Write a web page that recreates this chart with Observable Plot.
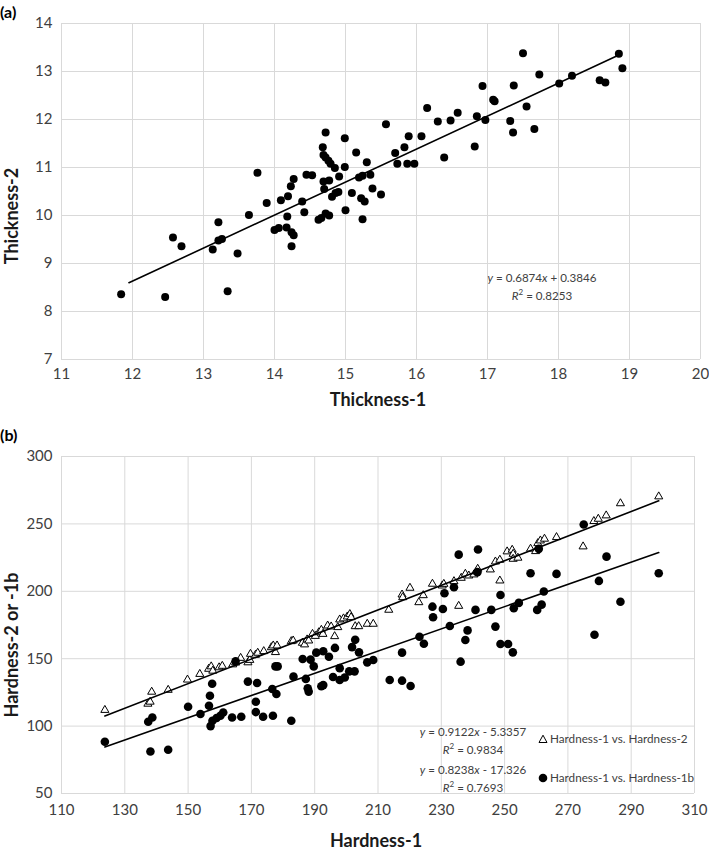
<!DOCTYPE html>
<html><head><meta charset="utf-8">
<script src="https://cdn.jsdelivr.net/npm/d3@7"></script>
<script src="https://cdn.jsdelivr.net/npm/@observablehq/plot@0.6"></script>
<style>
body{margin:0;background:#fff;font-family:Lato,"Open Sans",sans-serif;}
#wrap{position:relative;width:709px;height:850px;overflow:hidden;}
.panel{position:absolute;left:0;}
.tag{position:absolute;left:0;font-weight:bold;font-size:16px;color:#000;line-height:18px;}
.title{position:absolute;font-weight:bold;font-size:18px;color:#1a1a1a;white-space:nowrap;line-height:20px;width:240px;text-align:center;}
.ytitle{transform:rotate(-90deg);transform-origin:center center;}
.eq{position:absolute;font-size:11.6px;text-align:center;white-space:nowrap;color:#404040;line-height:15px;width:200px;}
.leg{position:absolute;font-size:11.7px;white-space:nowrap;color:#404040;line-height:14px;}
</style>
</head><body>
<div id="wrap">
  <div class="tag" style="top:3px;">(a)</div>
  <div class="tag" style="top:426px;">(b)</div>
</div>
<script>
// ---------- Panel (a) data ----------
const thickness1 = [11.84,12.46,12.57,12.69,13.13,13.21,13.21,13.26,13.34,13.48,13.64,13.76,13.89,14.00,14.06,14.09,14.17,14.18,14.19,14.23,14.24,14.27,14.24,14.27,14.39,14.42,14.45,14.53,14.62,14.66,14.68,14.69,14.69,14.70,14.72,14.72,14.72,14.76,14.77,14.77,14.79,14.81,14.85,14.86,14.90,14.91,14.99,14.99,15.00,15.09,15.15,15.19,15.22,15.24,15.24,15.27,15.30,15.35,15.38,15.50,15.57,15.70,15.73,15.83,15.87,15.89,15.97,16.07,16.15,16.30,16.39,16.48,16.58,16.82,16.85,16.93,16.97,17.08,17.10,17.32,17.36,17.37,17.50,17.55,17.66,17.73,18.01,18.19,18.58,18.66,18.85,18.90];
const thickness2 = [8.36,8.30,9.54,9.36,9.29,9.86,9.48,9.51,8.42,9.21,10.01,10.89,10.26,9.70,9.74,10.32,9.75,9.98,10.40,10.61,9.65,9.59,9.36,10.76,10.29,10.07,10.85,10.84,9.91,9.95,11.42,11.26,10.71,10.55,11.73,11.21,10.04,11.14,10.73,10.00,11.08,10.39,10.99,10.47,10.49,10.81,11.61,11.01,10.11,10.47,11.31,10.79,10.36,10.83,9.92,10.29,11.11,10.85,10.56,10.44,11.90,11.30,11.08,11.42,11.08,11.65,11.08,11.65,12.24,11.96,11.21,11.98,12.14,11.44,12.07,12.70,11.99,12.41,12.38,11.97,11.73,12.71,13.38,12.27,11.80,12.94,12.75,12.91,12.82,12.77,13.37,13.07];
const xTicksA = [11,12,13,14,15,16,17,18,19,20];
const yTicksA = [7,8,9,10,11,12,13,14];
const trendA = {slope: 0.6874, intercept: 0.3846, from: 11.95, to: 18.85};

// ---------- Panel (b) data ----------
const hard1Tri = [123.7,137.3,138.0,138.5,143.7,149.8,153.7,156.5,157.3,157.8,159.8,160.8,164.1,165.0,166.6,168.9,169.5,169.7,171.3,172.0,173.9,176.3,176.9,177.6,178.1,182.6,183.2,186.1,186.8,187.6,188.1,189.3,190.2,191.3,192.1,192.6,194.1,195.2,196.3,197.3,197.9,199.1,200.3,201.1,201.5,202.8,203.9,206.6,208.5,213.4,217.6,217.8,220.1,222.9,224.3,227.2,230.3,230.8,234.0,235.5,236.3,237.6,238.7,240.3,241.1,241.5,245.5,247.1,248.5,248.5,250.8,252.4,252.7,252.7,254.2,258.2,259.8,260.5,261.3,262.6,266.4,274.8,278.2,279.6,282.1,286.6,298.7];
const hardness2 = [111.9,116.5,118.0,125.4,126.8,134.4,138.6,142.4,144.2,141.0,143.5,144.6,145.7,147.0,150.5,147.2,149.0,153.5,152.8,154.3,155.5,158.4,159.7,154.8,159.7,162.9,163.4,161.7,160.5,164.2,163.4,168.3,166.8,169.5,171.3,168.3,174.5,173.8,166.6,173.3,179.0,179.8,181.2,183.0,180.7,174.0,174.0,175.8,175.8,186.2,197.5,195.5,202.5,191.8,197.0,205.5,204.2,205.4,207.4,189.1,209.9,212.9,211.6,212.4,214.6,216.6,216.1,222.0,223.3,207.9,229.5,230.7,227.7,224.0,224.8,231.5,229.7,235.6,237.6,238.9,240.1,233.2,252.0,253.7,256.2,265.2,270.3];
const hard1Circ = [123.7,137.4,138.1,138.7,143.7,150.0,153.9,156.6,156.9,157.1,157.6,157.7,159.0,160.2,161.1,163.9,166.8,165.0,168.9,171.8,171.4,171.4,173.7,176.8,176.6,177.9,177.6,178.3,182.6,183.3,186.2,187.2,187.8,188.1,188.7,189.7,190.5,192.7,192.1,192.7,194.5,196.4,195.8,197.9,197.9,199.5,200.9,202.6,201.8,202.8,204.0,206.6,208.5,213.7,217.6,220.3,217.6,223.1,224.5,227.2,227.4,230.5,231.0,232.7,234.0,235.5,236.1,237.6,238.3,240.8,241.6,241.4,245.8,247.1,248.7,251.1,252.6,248.7,252.9,254.5,258.2,260.8,260.3,261.7,262.4,266.4,275.0,278.4,279.8,282.2,286.6,298.7];
const hardness1b = [88.4,103.2,81.2,106.4,82.4,114.4,109.0,115.1,122.5,100.0,131.4,104.0,106.0,107.7,110.1,106.4,106.9,148.0,133.0,132.0,118.1,110.4,106.9,107.7,127.5,123.8,144.3,144.3,104.0,136.7,149.8,135.0,128.1,125.6,149.3,144.3,154.5,155.5,129.6,130.4,151.5,158.0,136.4,143.0,134.2,136.1,140.6,140.6,158.6,164.0,154.7,147.3,149.0,134.2,133.7,129.7,154.5,166.3,161.1,188.6,180.7,186.9,198.5,174.3,203.0,227.2,147.8,163.9,171.0,186.2,231.0,214.2,186.2,173.8,160.9,160.9,154.7,197.3,187.4,191.4,213.4,231.5,186.2,190.1,199.8,212.9,249.5,167.8,207.7,225.7,192.3,213.4];
const xTicksB = [110,130,150,170,190,210,230,250,270,290,310];
const yTicksB = [50,100,150,200,250,300];
const trendTri = {slope: 0.9122, intercept: -5.3357, from: 123.7, to: 298.7};
const trendCirc = {slope: 0.8238, intercept: -17.326, from: 123.7, to: 298.7};

const toRows = (xs, ys) => xs.map((x, i) => ({x, y: ys[i]}));
const lineRows = t => [t.from, t.to].map(x => ({x, y: t.slope * x + t.intercept}));

const baseStyle = {fontFamily: "Lato, 'Open Sans', sans-serif", fontSize: "15px", color: "#404040", background: "transparent", overflow: "visible"};
const wrap = document.getElementById("wrap");

const plotA = Plot.plot({
  width: 709, height: 405,
  marginLeft: 61, marginRight: 9, marginTop: 23, marginBottom: 46,
  x: {domain: [11, 20]},
  y: {domain: [7, 14]},
  style: baseStyle,
  marks: [
    Plot.gridX(xTicksA, {stroke: "#d9d9d9", strokeOpacity: 1}),
    Plot.gridY(yTicksA, {stroke: "#d9d9d9", strokeOpacity: 1}),
    Plot.axisX(xTicksA, {tickSize: 0, tickPadding: 9, label: null}),
    Plot.axisY(yTicksA, {tickSize: 0, tickPadding: 9, label: null}),
    Plot.line(lineRows(trendA), {x: "x", y: "y", stroke: "black", strokeWidth: 1.6}),
    Plot.dot(toRows(thickness1, thickness2), {x: "x", y: "y", r: 4, fill: "black"})
  ]
});
plotA.classList.add("panel");
plotA.style.top = "0px";
wrap.appendChild(plotA);

const plotB = Plot.plot({
  width: 709, height: 445,
  marginLeft: 61, marginRight: 15, marginTop: 51, marginBottom: 57,
  x: {domain: [110, 310]},
  y: {domain: [50, 300]},
  style: baseStyle,
  marks: [
    Plot.gridX(xTicksB, {stroke: "#d9d9d9", strokeOpacity: 1}),
    Plot.gridY(yTicksB, {stroke: "#d9d9d9", strokeOpacity: 1}),
    Plot.axisX(xTicksB, {tickSize: 0, tickPadding: 11, label: null}),
    Plot.axisY(yTicksB, {tickSize: 0, tickPadding: 9, label: null}),
    Plot.dot(toRows(hard1Tri, hardness2), {x: "x", y: "y", r: 3, symbol: "triangle", fill: "white", stroke: "black", strokeWidth: 1}),
    Plot.dot(toRows(hard1Circ, hardness1b), {x: "x", y: "y", r: 4.3, fill: "black"}),
    Plot.line(lineRows(trendTri), {x: "x", y: "y", stroke: "black", strokeWidth: 1.6}),
    Plot.line(lineRows(trendCirc), {x: "x", y: "y", stroke: "black", strokeWidth: 1.6})
  ]
});
plotB.classList.add("panel");
plotB.style.top = "405px";
wrap.appendChild(plotB);

// titles and annotations
function addDiv(cls, html, left, top) {
  const d = document.createElement("div");
  d.className = cls; d.innerHTML = html;
  d.style.left = left + "px"; d.style.top = top + "px";
  wrap.appendChild(d);
}
addDiv("title", "Thickness-1", 378 - 120, 389);
addDiv("title", "Hardness-1", 376 - 120, 830);
addDiv("title ytitle", "Thickness-2", 11 - 120, 216 - 10);
addDiv("title ytitle", "Hardness-2 or -1b", 11 - 120, 645 - 10);
addDiv("eq", "<i>y</i> = 0.6874<i>x</i> + 0.3846<br><i>R</i><sup style='font-size:8px'>2</sup> = 0.8253", 442, 270);
addDiv("eq", "<i>y</i> = 0.9122<i>x</i> - 5.3357<br><i>R</i><sup style='font-size:8px'>2</sup> = 0.9834", 373, 724);
addDiv("eq", "<i>y</i> = 0.8238<i>x</i> - 17.326<br><i>R</i><sup style='font-size:8px'>2</sup> = 0.7693", 373, 762);
addDiv("leg", "<svg width='10' height='10' style='vertical-align:-1px;margin-right:2px'><path d='M5,1.2L9,8.5L1,8.5Z' fill='white' stroke='black' stroke-width='1'/></svg>Hardness-1 vs. Hardness-2", 538, 731);
addDiv("leg", "<svg width='10' height='10' style='vertical-align:-1px;margin-right:2px'><circle cx='5' cy='5' r='4.3' fill='black'/></svg>Hardness-1 vs. Hardness-1b", 538, 770);
</script>
</body></html>
